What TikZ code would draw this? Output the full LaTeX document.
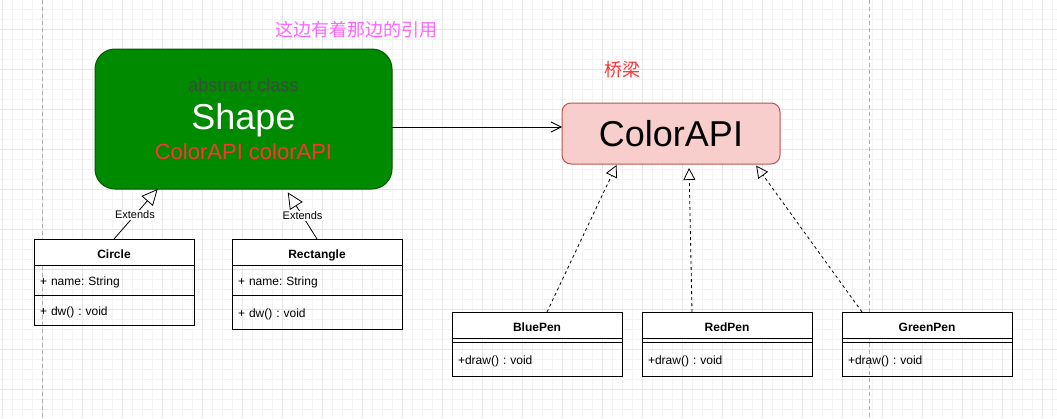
\documentclass[tikz,border=0pt]{standalone}
\usepackage{fontspec}
\setmainfont{Liberation Sans}
\newfontfamily\cjk{Noto Sans CJK SC}
\usetikzlibrary{positioning,arrows.meta}
\frenchspacing
\definecolor{shapegreen}{HTML}{008A00}
\definecolor{shapeline}{HTML}{005700}
\definecolor{apifill}{HTML}{F8CECC}
\definecolor{apiline}{HTML}{B85450}
\definecolor{labelred}{HTML}{FF3333}
\definecolor{labelpink}{HTML}{FF66FF}
\definecolor{kindgray}{HTML}{3C4B3C}
\definecolor{gridminor}{HTML}{F3F3F3}
\definecolor{gridmajor}{HTML}{E6E6E6}
\definecolor{pageline}{HTML}{B0B0B0}
\newcommand{\fs}[1]{\fontsize{#1}{#1}\selectfont}
\tikzset{
  classhead/.style={draw, fill=white, line width=1pt, outer sep=0pt, inner sep=0pt,
    minimum width=#1, minimum height=26pt, text height=12pt, text depth=0pt, font=\bfseries\fs{12}},
  classrow/.style 2 args={draw, line width=1pt, outer sep=0pt, inner xsep=6pt, inner ysep=0pt,
    text width=#1, minimum height=#2, text height=11pt, text depth=0pt, align=left, font=\fs{12}},
  edgelabel/.style={fill=white, inner sep=1pt, font=\fs{11}},
  extends/.style={-{Triangle[open, length=16pt, width=15pt]}, line width=0.8pt},
  realize/.style={-{Triangle[open, length=12pt, width=12pt]}, line width=0.8pt, dash pattern=on 3pt off 3pt},
  assoc/.style={-{Straight Barb[length=10pt, width=10pt]}, line width=0.8pt}
}
\begin{document}
\begin{tikzpicture}[x=1pt, y=-1pt]
  \useasboundingbox (0,0) rectangle (1057,418);
  \fill[white] (0,0) rectangle (1057,418);
  \foreach \x in {2,12,...,1052} \draw[gridminor, line width=1pt] (\x,0) -- (\x,418);
  \foreach \y in {9,19,...,409} \draw[gridminor, line width=1pt] (0,\y) -- (1057,\y);
  \foreach \x in {2,42,...,1042} \draw[gridmajor, line width=1pt] (\x,0) -- (\x,418);
  \foreach \y in {29,69,...,389} \draw[gridmajor, line width=1pt] (0,\y) -- (1057,\y);
  \foreach \x in {42,869} \draw[pageline, line width=1pt, dash pattern=on 4pt off 3pt] (\x,0) -- (\x,418);

  \node[font=\cjk\fs{18}, text=labelpink] (Title) at (356,30) {这边有着那边的引用};
  \node[font=\cjk\fs{18}, text=labelred] (Bridge) at (622,69.5) {桥梁};

  \node[draw=shapeline, fill=shapegreen, line width=1pt, rounded corners=20pt, outer sep=0pt,
    minimum width=297pt, minimum height=140pt, anchor=north west] (Shape) at (95,49) {};
  \node[font=\fs{18}, text=kindgray, anchor=base] (ShapeKind) at (243.5,91) {abstract class};
  \node[font=\fs{36}, text=white, anchor=base] (ShapeName) at (243.5,129.3) {Shape};
  \node[font=\fs{22}, text=labelred, anchor=base] (ShapeField) at (243.5,159) {ColorAPI colorAPI};

  \node[draw=apiline, fill=apifill, line width=1pt, rounded corners=9pt, outer sep=0pt,
    minimum width=218pt, minimum height=61pt, anchor=north west, font=\fs{36}] (ColorAPI) at (562,103) {ColorAPI};
  \draw[assoc] ([yshift=-8]Shape.east) -- ([yshift=6.5]ColorAPI.west);

  \node[classhead=160pt, anchor=north west] (Circle) at (34,239) {Circle};
  \node[classrow={148pt}{30pt}, below=0pt of Circle] (Circle-attr) {+ name: String};
  \node[classrow={148pt}{30pt}, below=0pt of Circle-attr] (Circle-ops) {+ dw() : void};
  \node[classhead=170pt, anchor=north west] (Rectangle) at (232,239) {Rectangle};
  \node[classrow={158pt}{30pt}, below=0pt of Rectangle] (Rectangle-attr) {+ name: String};
  \node[classrow={158pt}{34pt}, below=0pt of Rectangle-attr] (Rectangle-ops) {+ dw() : void};
  \draw[extends] (Circle.north) -- node[edgelabel, pos=0.48] (Circle-ext) {Extends} ([xshift=-85.8]Shape.south);
  \draw[extends, shorten >=4] (Rectangle.north) -- node[edgelabel, pos=0.46] (Rectangle-ext) {Extends} ([xshift=42.2]Shape.south);

  \foreach \n/\x/\a/\b/\s in {BluePen/452/10/-54/1, RedPen/642/-35/18/4, GreenPen/842/-65/84/2}{
    \node[classhead=170pt, anchor=north west] (\n) at (\x,312) {\n};
    \node[classrow={158pt}{4pt}, text height=0pt, below=0pt of \n] (\n-gap) {};
    \node[classrow={158pt}{34pt}, below=0pt of \n-gap] (\n-ops) {+draw() : void};
    \draw[realize, shorten >=\s] ([xshift=\a]\n.north) -- ([xshift=\b]ColorAPI.south);
  }
\end{tikzpicture}
\end{document}
